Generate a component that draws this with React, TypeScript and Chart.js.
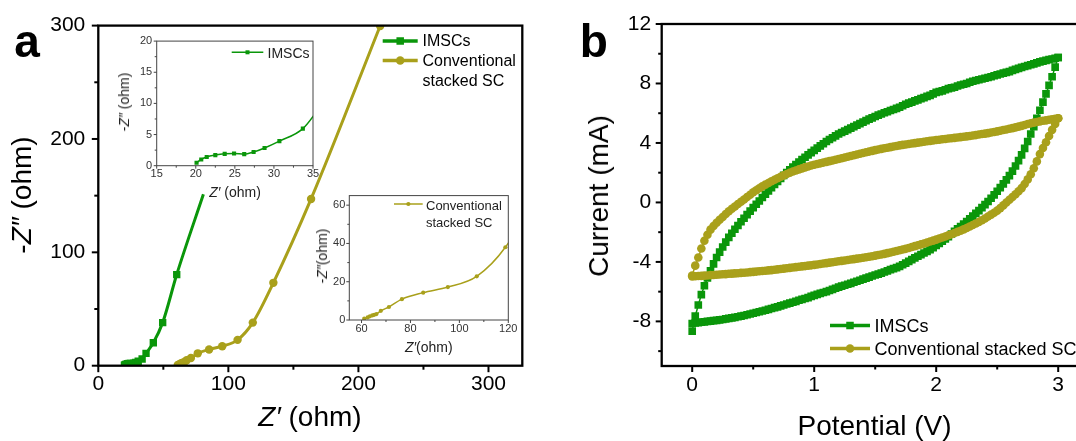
import React, { useEffect, useRef } from 'react';
import { Chart, registerables } from 'chart.js';

Chart.register(...registerables);

const FONT = '"Liberation Sans", Arial, Helvetica, sans-serif';
const GREEN = '#0a960a';
const OLIVE = '#a9a01b';

// ---------- Panel a : Nyquist plot (ohm) ----------
const imscZre = [20.1, 20.7, 21.4, 22.5, 23.7, 24.9, 26.2, 27.4, 28.8, 30.7, 33.7, 36.7, 42.3, 49.5, 60.3, 80.8];
const imscZim = [0.47, 1.0, 1.4, 1.7, 1.9, 1.95, 1.85, 2.2, 2.85, 3.95, 5.95, 10.9, 20.2, 38, 80.4, 151.2];
const convZre = [61.1, 62.5, 63.4, 64.4, 65.2, 66.1, 67.9, 71.2, 76.5, 85.2, 95.3, 107.1, 118.8, 134.6, 163.6, 216.7];
const convZim = [0.7, 1.36, 1.9, 2.4, 2.7, 3.1, 4.8, 6.8, 10.9, 14.3, 17.2, 22.8, 38.0, 73.1, 147.1, 299.7];

const aXMajor = [0, 100, 200, 300];
const aXMinor = [50, 150, 250];
const aYMajor = [0, 100, 200, 300];
const aYMinor = [50, 150, 250];
const in1XMajor = [15, 20, 25, 30, 35];
const in1XMinor = [17.5, 22.5, 27.5, 32.5];
const in1YMajor = [0, 5, 10, 15, 20];
const in1YMinor = [2.5, 7.5, 12.5, 17.5];
const in2XMajor = [60, 80, 100, 120];
const in2XMinor = [70, 90, 110];
const in2YMajor = [0, 20, 40, 60];
const in2YMinor = [10, 30, 50];

// ---------- Panel b : CV curves (V, mA) ----------
const potentialFwd = [
  0, 0.025, 0.05, 0.075, 0.1, 0.125, 0.15, 0.175, 0.2, 0.225,
  0.25, 0.275, 0.3, 0.325, 0.35, 0.375, 0.4, 0.425, 0.45, 0.475,
  0.5, 0.525, 0.55, 0.575, 0.6, 0.625, 0.65, 0.675, 0.7, 0.725,
  0.75, 0.775, 0.8, 0.825, 0.85, 0.875, 0.9, 0.925, 0.95, 0.975,
  1, 1.025, 1.05, 1.075, 1.1, 1.125, 1.15, 1.175, 1.2, 1.225,
  1.25, 1.275, 1.3, 1.325, 1.35, 1.375, 1.4, 1.425, 1.45, 1.475,
  1.5, 1.525, 1.55, 1.575, 1.6, 1.625, 1.65, 1.675, 1.7, 1.725,
  1.75, 1.775, 1.8, 1.825, 1.85, 1.875, 1.9, 1.925, 1.95, 1.975,
  2, 2.025, 2.05, 2.075, 2.1, 2.125, 2.15, 2.175, 2.2, 2.225,
  2.25, 2.275, 2.3, 2.325, 2.35, 2.375, 2.4, 2.425, 2.45, 2.475,
  2.5, 2.525, 2.55, 2.575, 2.6, 2.625, 2.65, 2.675, 2.7, 2.725,
  2.75, 2.775, 2.8, 2.825, 2.85, 2.875, 2.9, 2.925, 2.95, 2.975,
  3];
const potentialRev = [
  3, 2.975, 2.95, 2.925, 2.9, 2.875, 2.85, 2.825, 2.8, 2.775,
  2.75, 2.725, 2.7, 2.675, 2.65, 2.625, 2.6, 2.575, 2.55, 2.525,
  2.5, 2.475, 2.45, 2.425, 2.4, 2.375, 2.35, 2.325, 2.3, 2.275,
  2.25, 2.225, 2.2, 2.175, 2.15, 2.125, 2.1, 2.075, 2.05, 2.025,
  2, 1.975, 1.95, 1.925, 1.9, 1.875, 1.85, 1.825, 1.8, 1.775,
  1.75, 1.725, 1.7, 1.675, 1.65, 1.625, 1.6, 1.575, 1.55, 1.525,
  1.5, 1.475, 1.45, 1.425, 1.4, 1.375, 1.35, 1.325, 1.3, 1.275,
  1.25, 1.225, 1.2, 1.175, 1.15, 1.125, 1.1, 1.075, 1.05, 1.025,
  1, 0.975, 0.95, 0.925, 0.9, 0.875, 0.85, 0.825, 0.8, 0.775,
  0.75, 0.725, 0.7, 0.675, 0.65, 0.625, 0.6, 0.575, 0.55, 0.525,
  0.5, 0.475, 0.45, 0.425, 0.4, 0.375, 0.35, 0.325, 0.3, 0.275,
  0.25, 0.225, 0.2, 0.175, 0.15, 0.125, 0.1, 0.075, 0.05, 0.025,
  0];

const imscFwdI = [
  -8.66, -7.65, -6.9, -6.2, -5.6, -5.08, -4.6, -4.13, -3.7, -3.34,
  -3.0, -2.67, -2.35, -2.07, -1.8, -1.55, -1.3, -1.06, -0.82, -0.58,
  -0.35, -0.12, 0.1, 0.33, 0.55, 0.78, 1.0, 1.21, 1.42, 1.62,
  1.82, 2.01, 2.2, 2.38, 2.55, 2.72, 2.88, 3.04, 3.2, 3.35,
  3.5, 3.65, 3.8, 3.95, 4.1, 4.23, 4.35, 4.48, 4.6, 4.7,
  4.8, 4.9, 5.0, 5.1, 5.2, 5.3, 5.4, 5.5, 5.6, 5.69,
  5.78, 5.87, 5.95, 6.03, 6.1, 6.18, 6.25, 6.33, 6.4, 6.5,
  6.6, 6.68, 6.75, 6.83, 6.9, 6.98, 7.05, 7.13, 7.2, 7.3,
  7.4, 7.45, 7.5, 7.58, 7.65, 7.7, 7.75, 7.83, 7.9, 7.95,
  8.0, 8.08, 8.15, 8.2, 8.25, 8.3, 8.35, 8.4, 8.45, 8.52,
  8.58, 8.64, 8.7, 8.75, 8.8, 8.88, 8.95, 9.02, 9.08, 9.14,
  9.2, 9.26, 9.32, 9.39, 9.45, 9.5, 9.55, 9.6, 9.65, 9.7,
  9.75];
const imscRevI = [
  9.75, 9.1, 8.45, 7.87, 7.3, 6.75, 6.2, 5.65, 5.1, 4.6,
  4.1, 3.64, 3.2, 2.81, 2.45, 2.11, 1.8, 1.52, 1.25, 1.0,
  0.75, 0.51, 0.28, 0.06, -0.15, -0.35, -0.55, -0.74, -0.92, -1.1,
  -1.28, -1.45, -1.62, -1.78, -1.95, -2.12, -2.3, -2.45, -2.6, -2.75,
  -2.9, -3.04, -3.18, -3.29, -3.4, -3.51, -3.62, -3.73, -3.85, -3.96,
  -4.08, -4.19, -4.3, -4.38, -4.45, -4.52, -4.6, -4.68, -4.75, -4.82,
  -4.88, -4.95, -5.02, -5.09, -5.16, -5.23, -5.3, -5.37, -5.44, -5.5,
  -5.57, -5.63, -5.7, -5.77, -5.85, -5.92, -6.0, -6.06, -6.12, -6.18,
  -6.25, -6.32, -6.4, -6.46, -6.52, -6.58, -6.65, -6.71, -6.77, -6.83,
  -6.9, -6.96, -7.02, -7.07, -7.13, -7.19, -7.25, -7.3, -7.35, -7.4,
  -7.45, -7.5, -7.55, -7.6, -7.65, -7.69, -7.73, -7.76, -7.8, -7.83,
  -7.87, -7.9, -7.93, -7.95, -7.98, -8.0, -8.03, -8.05, -8.08, -8.11,
  -8.15];
const convFwdI = [
  -4.92, -4.25, -3.7, -3.1, -2.58, -2.17, -1.83, -1.58, -1.37, -1.17,
  -0.98, -0.78, -0.59, -0.43, -0.27, -0.11, 0.05, 0.2, 0.36, 0.52,
  0.68, 0.82, 0.95, 1.08, 1.2, 1.31, 1.42, 1.53, 1.63, 1.73,
  1.82, 1.91, 2.0, 2.08, 2.15, 2.22, 2.29, 2.36, 2.42, 2.48,
  2.53, 2.58, 2.63, 2.68, 2.73, 2.78, 2.82, 2.87, 2.92, 2.97,
  3.02, 3.07, 3.12, 3.17, 3.22, 3.27, 3.32, 3.37, 3.42, 3.47,
  3.52, 3.56, 3.6, 3.64, 3.68, 3.72, 3.76, 3.8, 3.84, 3.87,
  3.9, 3.93, 3.96, 3.99, 4.02, 4.05, 4.08, 4.11, 4.14, 4.17,
  4.2, 4.22, 4.25, 4.27, 4.3, 4.32, 4.34, 4.37, 4.39, 4.42,
  4.44, 4.47, 4.5, 4.53, 4.57, 4.6, 4.63, 4.66, 4.7, 4.74,
  4.78, 4.82, 4.87, 4.91, 4.96, 5.0, 5.05, 5.1, 5.15, 5.21,
  5.27, 5.32, 5.37, 5.41, 5.45, 5.49, 5.52, 5.56, 5.59, 5.63,
  5.66];
const convRevI = [
  5.66, 5.28, 4.88, 4.47, 4.05, 3.66, 3.25, 2.76, 2.3, 1.9,
  1.55, 1.24, 0.96, 0.75, 0.55, 0.36, 0.18, -0.01, -0.2, -0.38,
  -0.55, -0.69, -0.82, -0.95, -1.08, -1.2, -1.32, -1.42, -1.52, -1.62,
  -1.72, -1.81, -1.9, -1.98, -2.06, -2.14, -2.21, -2.29, -2.36, -2.43,
  -2.5, -2.57, -2.63, -2.7, -2.76, -2.82, -2.88, -2.94, -3.0, -3.06,
  -3.12, -3.17, -3.22, -3.27, -3.32, -3.37, -3.41, -3.46, -3.5, -3.54,
  -3.58, -3.62, -3.65, -3.69, -3.72, -3.75, -3.78, -3.81, -3.84, -3.87,
  -3.9, -3.93, -3.96, -3.99, -4.02, -4.05, -4.08, -4.11, -4.14, -4.17,
  -4.2, -4.23, -4.25, -4.28, -4.3, -4.33, -4.35, -4.38, -4.4, -4.43,
  -4.45, -4.48, -4.5, -4.53, -4.55, -4.57, -4.59, -4.61, -4.63, -4.65,
  -4.67, -4.69, -4.71, -4.73, -4.74, -4.76, -4.77, -4.79, -4.8, -4.82,
  -4.83, -4.85, -4.86, -4.88, -4.89, -4.91, -4.92, -4.94, -4.95, -4.96,
  -4.97];

const bXMajor = [0, 1, 2, 3];
const bXMinor = [0.5, 1.5, 2.5];
const bYMajor = [-8, -4, 0, 4, 8, 12];
const bYMinor = [-10, -6, -2, 2, 6, 10];

// ---------- helpers ----------
const pts = (xs: number[], ys: number[]) => xs.map((x, i) => ({ x, y: ys[i] }));

const decoPlugin = {
  id: 'deco',
  afterDraw(chart: any, _args: any, o: any) {
    const { ctx, chartArea: a } = chart;
    const sx = chart.scales.x;
    const sy = chart.scales.y;
    ctx.save();
    ctx.strokeStyle = o.color;
    ctx.lineWidth = o.tickWidth;
    const tx = (vals: number[], len: number) => {
      for (const v of vals) {
        const p = sx.getPixelForValue(v);
        ctx.beginPath(); ctx.moveTo(p, a.bottom); ctx.lineTo(p, a.bottom + len); ctx.stroke();
      }
    };
    const ty = (vals: number[], len: number) => {
      for (const v of vals) {
        const p = sy.getPixelForValue(v);
        ctx.beginPath(); ctx.moveTo(a.left, p); ctx.lineTo(a.left - len, p); ctx.stroke();
      }
    };
    tx(o.xMajor, o.majorLen); tx(o.xMinor, o.minorLen);
    ty(o.yMajor, o.majorLen); ty(o.yMinor, o.minorLen);
    ctx.lineWidth = o.frameWidth;
    ctx.strokeRect(a.left, a.top, a.right - a.left, a.bottom - a.top);
    for (const it of o.legend || []) {
      ctx.strokeStyle = it.color; ctx.fillStyle = it.color; ctx.lineWidth = it.lineWidth;
      const x1 = it.x1 - o.offX, x2 = it.x2 - o.offX, y = it.y - o.offY;
      ctx.beginPath(); ctx.moveTo(x1, y); ctx.lineTo(x2, y); ctx.stroke();
      const cx = (x1 + x2) / 2;
      if (it.shape === 'rect') ctx.fillRect(cx - it.size / 2, y - it.size / 2, it.size, it.size);
      else { ctx.beginPath(); ctx.arc(cx, y, it.size / 2, 0, Math.PI * 2); ctx.fill(); }
    }
    ctx.restore();
  },
};

type Box = { left: number; top: number; width: number; height: number };
type Area = { left: number; top: number; right: number; bottom: number };

function axis(spec: any, kind: 'x' | 'y', size: number) {
  return {
    type: 'linear',
    position: kind === 'x' ? 'bottom' : 'left',
    min: spec.min,
    max: spec.max,
    afterBuildTicks: (s: any) => { s.ticks = spec.major.map((v: number) => ({ value: v })); },
    afterFit: (s: any) => { if (kind === 'x') s.height = size; else s.width = size; },
    grid: { display: false, drawTicks: false },
    border: { display: false },
    ticks: {
      padding: spec.pad, color: spec.color, font: { family: FONT, size: spec.font },
      autoSkip: false, maxRotation: 0, minRotation: 0, callback: (v: any) => String(v),
    },
  };
}

function buildConfig(canvas: Box, area: Area, x: any, y: any, datasets: any[], deco: any) {
  return {
    type: 'scatter',
    data: { datasets },
    plugins: [decoPlugin],
    options: {
      responsive: false,
      animation: false,
      devicePixelRatio: 1,
      events: [],
      layout: {
        padding: { left: 0, top: area.top - canvas.top, right: canvas.left + canvas.width - area.right, bottom: 0 },
      },
      plugins: {
        legend: { display: false },
        tooltip: { enabled: false },
        deco: { ...deco, offX: canvas.left, offY: canvas.top },
      },
      scales: {
        x: axis(x, 'x', canvas.top + canvas.height - area.bottom),
        y: axis(y, 'y', area.left - canvas.left),
      },
    },
  };
}

function ChartCanvas({ box, make }: { box: Box; make: () => any }) {
  const ref = useRef<HTMLCanvasElement | null>(null);
  useEffect(() => {
    const chart = new Chart(ref.current as any, make());
    return () => chart.destroy();
  }, []);
  return (
    <canvas ref={ref} width={box.width} height={box.height}
      style={{ position: 'absolute', left: box.left, top: box.top, width: box.width, height: box.height }} />
  );
}

function T({ x, y, size, rot, bold, color, align, children }: any) {
  const tr = align === 'left' ? 'translate(0,-50%)' : `translate(-50%,-50%)${rot ? ' rotate(-90deg)' : ''}`;
  return (
    <div style={{
      position: 'absolute', left: x, top: y, transform: tr, fontSize: size, fontWeight: bold ? 'bold' : 'normal',
      fontFamily: FONT, lineHeight: 1, whiteSpace: 'nowrap', color: color || '#000',
    }}>{children}</div>
  );
}

// ---------- layout boxes ----------
const A_CANVAS: Box = { left: 0, top: 0, width: 540, height: 441 };
const A_AREA: Area = { left: 98.3, top: 24, right: 522.3, bottom: 365.7 };
const I1_CANVAS: Box = { left: 110, top: 30, width: 215, height: 160 };
const I1_AREA: Area = { left: 156.7, top: 39, right: 313, bottom: 165.7 };
const I2_CANVAS: Box = { left: 315, top: 185, width: 215, height: 155 };
const I2_AREA: Area = { left: 349.3, top: 192.7, right: 508.3, bottom: 320 };
const B_CANVAS: Box = { left: 540, top: 0, width: 600, height: 441 };
const B_AREA: Area = { left: 661.7, top: 24, right: 1100.9, bottom: 366 };

const lastIdx = imscZre.length - 1;

function makeA() {
  return buildConfig(A_CANVAS, A_AREA,
    { min: 0, max: 326, major: aXMajor, pad: 6, font: 21, color: '#000' },
    { min: 0, max: 300, major: aYMajor, pad: 13, font: 21, color: '#000' },
    [
      {
        label: 'IMSCs', data: pts(imscZre, imscZim), showLine: true, borderColor: GREEN, backgroundColor: GREEN,
        borderWidth: 3, pointStyle: 'rect', pointRadius: (c: any) => (c.dataIndex === lastIdx ? 0 : 5.2),
        pointBackgroundColor: GREEN, pointBorderWidth: 0, cubicInterpolationMode: 'monotone',
      },
      {
        label: 'Conventional stacked SC', data: pts(convZre, convZim), showLine: true, borderColor: OLIVE, backgroundColor: OLIVE,
        borderWidth: 3, pointStyle: 'circle', pointRadius: 4.2, pointBackgroundColor: OLIVE, pointBorderWidth: 0,
        cubicInterpolationMode: 'monotone',
      },
    ],
    {
      color: '#000', tickWidth: 2, majorLen: 6.5, minorLen: 4, frameWidth: 2.3,
      xMajor: aXMajor, xMinor: aXMinor, yMajor: aYMajor, yMinor: aYMinor,
      legend: [
        { x1: 382.7, x2: 417.7, y: 41, color: GREEN, lineWidth: 3.5, shape: 'rect', size: 7.5 },
        { x1: 382.7, x2: 417.7, y: 60.5, color: OLIVE, lineWidth: 3.5, shape: 'circle', size: 8.5 },
      ],
    });
}

function makeI1() {
  return buildConfig(I1_CANVAS, I1_AREA,
    { min: 15, max: 35, major: in1XMajor, pad: 2, font: 11, color: '#333' },
    { min: 0, max: 20, major: in1YMajor, pad: 4.5, font: 11, color: '#333' },
    [
      {
        label: 'IMSCs', data: pts(imscZre, imscZim), showLine: true, borderColor: GREEN, backgroundColor: GREEN,
        borderWidth: 1.5, pointStyle: 'rect', pointRadius: (c: any) => (c.dataIndex === lastIdx ? 0 : 2.9),
        pointBackgroundColor: GREEN, pointBorderWidth: 0, cubicInterpolationMode: 'monotone',
      },
    ],
    {
      color: '#444', tickWidth: 1, majorLen: 3, minorLen: 2, frameWidth: 1,
      xMajor: in1XMajor, xMinor: in1XMinor, yMajor: in1YMajor, yMinor: in1YMinor,
      legend: [{ x1: 231.7, x2: 263.3, y: 52.3, color: GREEN, lineWidth: 1.5, shape: 'rect', size: 4 }],
    });
}

function makeI2() {
  return buildConfig(I2_CANVAS, I2_AREA,
    { min: 55, max: 120, major: in2XMajor, pad: 2.7, font: 11, color: '#333' },
    { min: 0, max: 65, major: in2YMajor, pad: 4, font: 11, color: '#333' },
    [
      {
        label: 'Conventional stacked SC', data: pts(convZre, convZim), showLine: true, borderColor: OLIVE, backgroundColor: OLIVE,
        borderWidth: 1.5, pointStyle: 'circle', pointRadius: 2.1, pointBackgroundColor: OLIVE, pointBorderWidth: 0,
        cubicInterpolationMode: 'monotone',
      },
    ],
    {
      color: '#444', tickWidth: 1, majorLen: 3, minorLen: 2, frameWidth: 1,
      xMajor: in2XMajor, xMinor: in2XMinor, yMajor: in2YMajor, yMinor: in2YMinor,
      legend: [{ x1: 394, x2: 422.7, y: 204, color: OLIVE, lineWidth: 1.5, shape: 'circle', size: 4.2 }],
    });
}

function makeB() {
  return buildConfig(B_CANVAS, B_AREA,
    { min: -0.25, max: 3.35, major: bXMajor, pad: 6.5, font: 21, color: '#000' },
    { min: -11, max: 12, major: bYMajor, pad: 10.5, font: 21, color: '#000' },
    [
      {
        label: 'Conventional stacked SC', data: [...pts(potentialFwd, convFwdI), ...pts(potentialRev, convRevI)],
        showLine: true, borderColor: OLIVE, backgroundColor: OLIVE, borderWidth: 1.5, pointStyle: 'circle',
        pointRadius: 4.3, pointBackgroundColor: OLIVE, pointBorderWidth: 0, tension: 0,
      },
      {
        label: 'IMSCs', data: [...pts(potentialFwd, imscFwdI), ...pts(potentialRev, imscRevI)],
        showLine: true, borderColor: GREEN, backgroundColor: GREEN, borderWidth: 1.5, pointStyle: 'rect',
        pointRadius: 5.4, pointBackgroundColor: GREEN, pointBorderWidth: 0, tension: 0,
      },
    ],
    {
      color: '#000', tickWidth: 2, majorLen: 6, minorLen: 3.5, frameWidth: 2.3,
      xMajor: bXMajor, xMinor: bXMinor, yMajor: bYMajor, yMinor: bYMinor,
      legend: [
        { x1: 830, x2: 870, y: 325.5, color: GREEN, lineWidth: 3.5, shape: 'rect', size: 7.5 },
        { x1: 830, x2: 870, y: 348.5, color: OLIVE, lineWidth: 3.5, shape: 'circle', size: 8.5 },
      ],
    });
}

export default function App() {
  return (
    <div style={{
      position: 'absolute', left: 0, top: 0, width: 1076, height: 441, overflow: 'hidden',
      background: '#fff', fontFamily: FONT,
    }}>
      <ChartCanvas box={A_CANVAS} make={makeA} />
      <ChartCanvas box={I1_CANVAS} make={makeI1} />
      <ChartCanvas box={I2_CANVAS} make={makeI2} />
      <ChartCanvas box={B_CANVAS} make={makeB} />

      {/* panel a texts */}
      <T x={27} y={41} size={46} bold>a</T>
      <T x={21.5} y={195} size={28} rot>-<i>Z″</i> (ohm)</T>
      <T x={310} y={416.6} size={28}><i>Z′</i> (ohm)</T>
      <T x={422.5} y={41} size={16} align="left">IMSCs</T>
      <T x={422.5} y={61} size={16} align="left">Conventional</T>
      <T x={422.5} y={81} size={16} align="left">stacked SC</T>

      {/* inset 1 texts */}
      <T x={123.9} y={102} size={14} rot color="#222">-<i>Z″</i> (ohm)</T>
      <T x={235} y={192.2} size={14} color="#222"><i>Z′</i> (ohm)</T>
      <T x={267.5} y={52.5} size={14} align="left" color="#222">IMSCs</T>

      {/* inset 2 texts */}
      <T x={322.2} y={256.3} size={14} rot color="#222">-<i>Z″</i>(ohm)</T>
      <T x={428.8} y={347.2} size={14} color="#222"><i>Z′</i>(ohm)</T>
      <T x={426} y={205} size={13} align="left" color="#222">Conventional</T>
      <T x={426} y={221.7} size={13} align="left" color="#222">stacked SC</T>

      {/* panel b texts */}
      <T x={593.7} y={41.4} size={46} bold>b</T>
      <T x={599.4} y={195.8} size={28} rot>Current (mA)</T>
      <T x={874.5} y={425.7} size={28}>Potential (V)</T>
      <T x={874.5} y={326} size={18} align="left">IMSCs</T>
      <T x={874.5} y={348.7} size={18} align="left">Conventional stacked SC</T>
    </div>
  );
}
